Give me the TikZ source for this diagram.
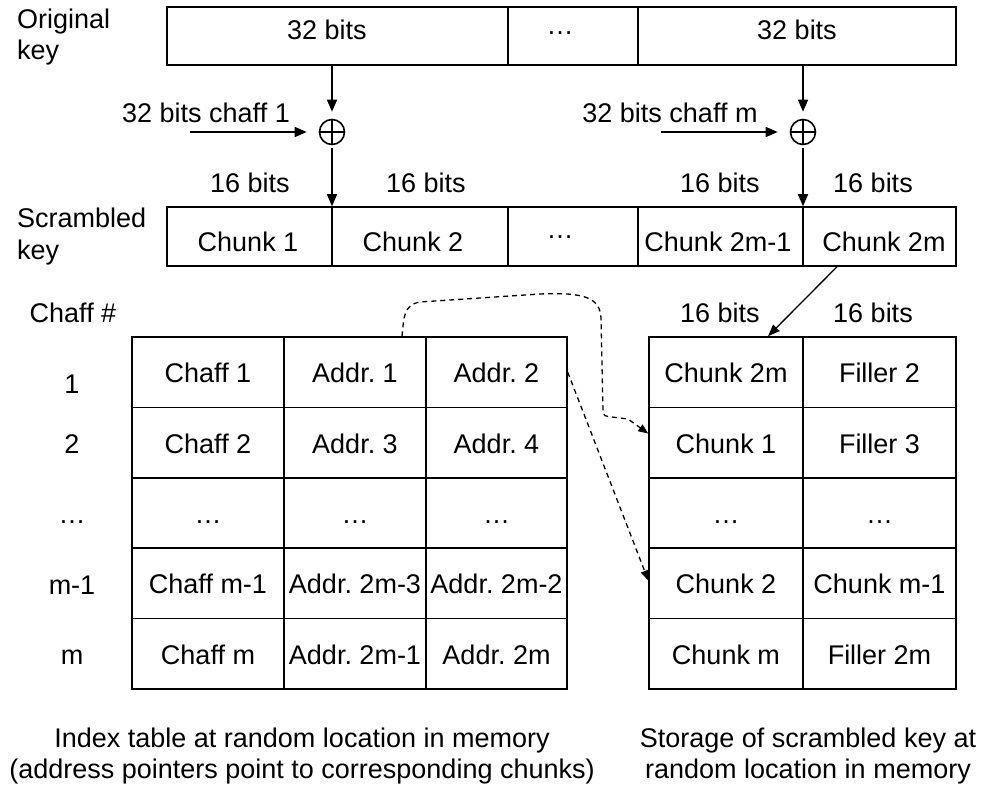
\documentclass[tikz,border=0pt]{standalone}
\usepackage{fontspec}
\setmainfont{Liberation Sans}
\usetikzlibrary{arrows.meta}
\frenchspacing
\begin{document}
\begin{tikzpicture}[x=1pt,y=-1pt,
  frame/.style={draw, line width=1.5pt, inner sep=0pt, minimum height=#1},
  cell/.style={draw, line width=1.5pt, inner sep=0pt, minimum height=70.4pt,
    font=\fontsize{27}{31}\selectfont, text height=21pt, text depth=0pt},
  txt/.style={inner sep=0pt, anchor=base, font=\fontsize{27}{31}\selectfont},
  ltxt/.style={txt, anchor=base west},
  xorop/.style={circle, draw, line width=1.6pt, minimum size=25pt, inner sep=0pt},
  arr/.style={line width=1.5pt, -{Triangle[length=12pt,width=10pt]}},
  darr/.style={line width=1.3pt, dash pattern=on 5pt off 4pt, -{Triangle[length=10pt,width=8pt]}},
]
\useasboundingbox (0,0) rectangle (985,786);

% ---------- original key ----------
\node[ltxt] (lorig1) at (17,29) {Original};
\node[ltxt] (lorig2) at (17,60) {key};
\node[frame=58pt, minimum width=341pt] (ok1) at (337.5,36) {};
\node[frame=58pt, minimum width=130pt] (okd) at (573,36) {};
\node[frame=58pt, minimum width=318pt] (okm) at (797,36) {};
\node[txt] (tok1) at (327,40) {32 bits};
\node[txt] (tokd) at (560,34.5) {…};
\node[txt] (tokm) at (797,40) {32 bits};

% ---------- xor ----------
\node[xorop] (x1) at (332,132) {};
\node[xorop] (x2) at (803,132) {};
\draw[line width=1.6pt] (x1.north) -- (x1.south) (x1.west) -- (x1.east);
\draw[line width=1.6pt] (x2.north) -- (x2.south) (x2.west) -- (x2.east);

\node[txt] (tc1) at (206,123) {32 bits chaff 1};
\node[txt] (tcm) at (670,123) {32 bits chaff m};
\coordinate (c1s) at (190,132);
\coordinate (cms) at (661,132);
\draw[arr] (c1s) -- ([xshift=-12pt]x1.west);
\draw[arr] (cms) -- ([xshift=-12pt]x2.west);

% ---------- scrambled key ----------
\node[ltxt] (lscr1) at (17,228) {Scrambled};
\node[ltxt] (lscr2) at (17,260) {key};
\node[frame=59pt, minimum width=165pt] (s1) at (249.5,236.5) {};
\node[frame=59pt, minimum width=176pt] (s2) at (420,236.5) {};
\node[frame=59pt, minimum width=130pt] (sd) at (573,236.5) {};
\node[frame=59pt, minimum width=165pt] (s3) at (720.5,236.5) {};
\node[frame=59pt, minimum width=153pt] (s4) at (879.5,236.5) {};
\node[txt] (ts1) at (248,252) {Chunk 1};
\node[txt] (ts2) at (413,252) {Chunk 2};
\node[txt] (tsd) at (560,238.5) {…};
\node[txt] (ts3) at (718,252) {Chunk 2m-1};
\node[txt] (ts4) at (884,252) {Chunk 2m};

\node[txt] (b1) at (250,193) {16 bits};
\node[txt] (b2) at (426,193) {16 bits};
\node[txt] (b3) at (720,193) {16 bits};
\node[txt] (b4) at (873,193) {16 bits};

% vertical arrows
\draw[arr] (ok1.south -| x1) -- ([yshift=7pt]x1.north);
\draw[arr] (okm.south -| x2) -- ([yshift=7pt]x2.north);
\draw[arr] ([yshift=-3pt]x1.south) -- (x1 |- s1.north);
\draw[arr] ([yshift=-3pt]x2.south) -- (x2 |- s4.north);

% ---------- index table ----------
\node[txt] (lchaff) at (73,323) {Chaff \#};
\node[txt] (r1) at (72,393) {1};
\node[txt] (r2) at (72,453) {2};
\node[txt] (r3) at (72,523.5) {…};
\node[txt] (r4) at (72,594) {m-1};
\node[txt] (r5) at (72,664) {m};

\foreach \r/\y/\a/\b/\c in {1/372.2/Chaff 1/Addr. 1/Addr. 2,
                            2/442.6/Chaff 2/Addr. 3/Addr. 4,
                            3/513/…/…/…,
                            4/583.4/Chaff m-1/Addr. 2m-3/Addr. 2m-2,
                            5/653.8/Chaff m/Addr. 2m-1/Addr. 2m}{
  \node[cell, minimum width=152pt] (a\r1) at (208,\y) {\a};
  \node[cell, minimum width=142pt] (a\r2) at (355,\y) {\b};
  \node[cell, minimum width=141pt] (a\r3) at (496.5,\y) {\c};
}

% ---------- storage table ----------
\node[txt] (b5) at (720,323) {16 bits};
\node[txt] (b6) at (873,323) {16 bits};
\foreach \r/\y/\a/\b in {1/372.2/Chunk 2m/Filler 2,
                         2/442.6/Chunk 1/Filler 3,
                         3/513/…/…,
                         4/583.4/Chunk 2/Chunk m-1,
                         5/653.8/Chunk m/Filler 2m}{
  \node[cell, minimum width=154pt] (g\r1) at (726,\y) {\a};
  \node[cell, minimum width=153pt] (g\r2) at (879.5,\y) {\b};
}

% chunk 2m -> storage
\draw[line width=1.3pt, -{Triangle[length=12pt,width=9pt]}]
  ([xshift=-42.5pt]s4.south) -- ([xshift=42pt]g11.north);

% dashed pointers
\draw[darr] ([xshift=47pt]a12.north) .. controls (404,318) and (403,305) .. (420,302)
  -- (540,294) .. controls (585,292) and (600,298) .. (601,318)
  -- (603,411) .. controls (604,416) .. (612,417) -- (628,419)
  -- ([yshift=9pt]g21.west);
\draw[darr] (a13.east) -- ([yshift=3pt]g41.west);

% ---------- captions ----------
\node[txt] (cap1) at (302,747) {Index table at random location in memory};
\node[txt] (cap2) at (302,778) {(address pointers point to corresponding chunks)};
\node[txt] (cap3) at (808,747) {Storage of scrambled key at};
\node[txt] (cap4) at (808,778) {random location in memory};
\end{tikzpicture}
\end{document}
